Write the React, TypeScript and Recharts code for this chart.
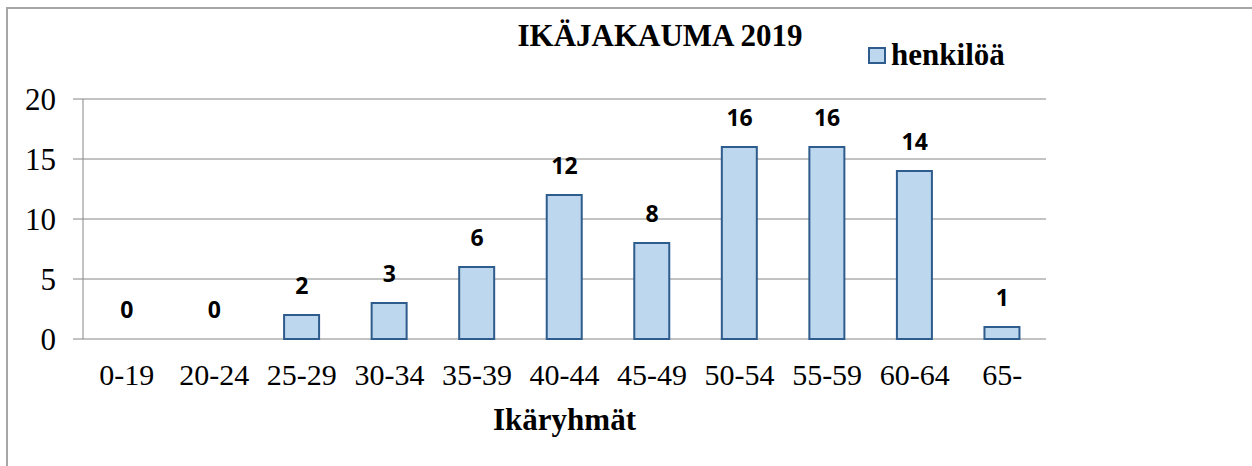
import React from 'react';
import {
  ComposedChart,
  Bar,
  Line,
  XAxis,
  YAxis,
  CartesianGrid,
  LabelList,
  Legend,
} from 'recharts';

const ageGroups = ['0-19', '20-24', '25-29', '30-34', '35-39', '40-44', '45-49', '50-54', '55-59', '60-64', '65-'];
const persons = [0, 0, 2, 3, 6, 12, 8, 16, 16, 14, 1];
const yTicks = [0, 5, 10, 15, 20];
const groupEdges = [0, 1, 2, 3, 4, 5, 6, 7, 8, 9, 10, 11];
const seriesName = 'henkilöä';

const data = ageGroups.map((group, i) => ({ group, henkiloa: persons[i] }));

const serif = '"Liberation Serif", serif';
const axisGray = '#868686';
const barFill = '#BDD7EE';
const barStroke = '#2E5C8C';

// legend drawn as svg, same font setup as the axis title
function LegendBox() {
  return (
    <svg width={150} height={40} style={{ display: 'block' }}>
      <rect x={2} y={10} width={16} height={15} fill={barFill} stroke={barStroke} strokeWidth={2} />
      <text x={24} y={27} fontFamily={serif} fontWeight={700} fontSize={31} fill="#000">
        {Array.from(seriesName).map((ch, i) => (
          <tspan key={i}>{ch}</tspan>
        ))}
      </text>
    </svg>
  );
}

export default function App() {
  return (
    <div style={{ position: 'absolute', left: 0, top: 0, width: 1252, height: 466, overflow: 'hidden', background: '#fff' }}>
      <div
        style={{
          position: 'absolute',
          left: 6,
          top: 7,
          width: 1400,
          height: 600,
          borderTop: '2px solid #a6a6a6',
          borderLeft: '2px solid #a6a6a6',
        }}
      />
      <div
        style={{
          position: 'absolute',
          left: 460,
          width: 400,
          top: 18,
          textAlign: 'center',
          fontFamily: serif,
          fontWeight: 700,
          fontSize: 31,
          lineHeight: '36px',
        }}
      >
        IKÄJAKAUMA 2019
      </div>
      <div style={{ position: 'absolute', left: 0, top: 0 }}>
        <ComposedChart width={1252} height={466} data={data} margin={{ top: 99, right: 206, bottom: 67, left: 0 }}>
          <CartesianGrid horizontal vertical={false} stroke={axisGray} />
          <XAxis
            xAxisId="edges"
            type="number"
            domain={[0, 11]}
            ticks={groupEdges}
            allowDataOverflow
            height={0}
            tick={false}
            tickSize={8}
            stroke={axisGray}
            tickLine={{ stroke: axisGray }}
          />
          <XAxis
            dataKey="group"
            height={60}
            axisLine={false}
            tickLine={false}
            tickSize={8}
            tickMargin={17}
            interval={0}
            tick={{ fill: '#000', fontFamily: serif, fontSize: 30 }}
            label={{
              value: 'Ikäryhmät',
              position: 'insideBottom',
              offset: -31,
              fill: '#000',
              fontFamily: serif,
              fontWeight: 700,
              fontSize: 31,
            }}
          />
          <YAxis
            width={83}
            domain={[0, 20]}
            ticks={yTicks}
            tickSize={10}
            tickMargin={17}
            stroke={axisGray}
            tick={{ fill: '#000', fontFamily: serif, fontSize: 31 }}
          />
          <Legend
            layout="vertical"
            align="center"
            verticalAlign="middle"
            wrapperStyle={{ top: 38, left: 867, width: 'auto' }}
            content={() => <LegendBox />}
          />
          <Bar
            dataKey="henkiloa"
            name={seriesName}
            fill={barFill}
            stroke={barStroke}
            strokeWidth={2}
            barSize={35}
            isAnimationActive={false}
          />
          <Line
            dataKey="henkiloa"
            legendType="none"
            stroke="none"
            dot={false}
            activeDot={false}
            isAnimationActive={false}
          >
            <LabelList
              dataKey="henkiloa"
              position="top"
              offset={21}
              fill="#000"
              fontFamily="Open Sans"
              fontWeight={700}
              fontSize={23}
            />
          </Line>
        </ComposedChart>
      </div>
    </div>
  );
}
